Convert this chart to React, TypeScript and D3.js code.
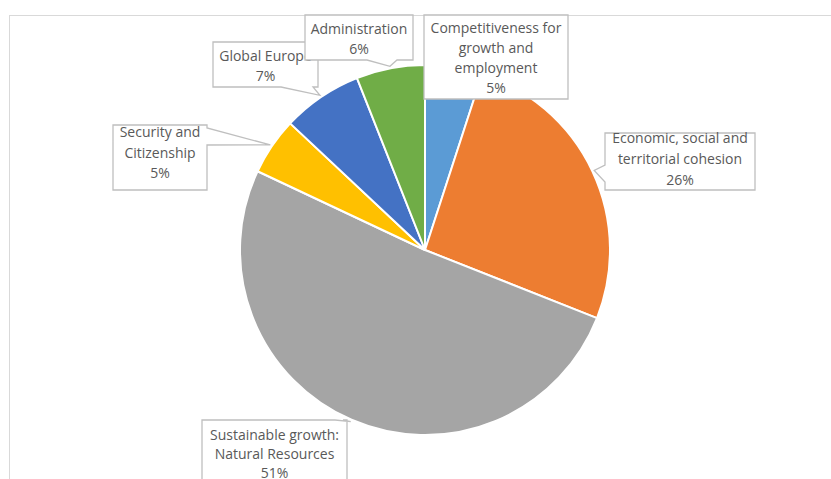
import { useEffect, useRef } from 'react'
import * as d3 from 'd3'

// ── Data ──────────────────────────────────────────────────────────
const categories = [
  'Competitiveness for growth and employment',
  'Economic, social and territorial cohesion',
  'Sustainable growth: Natural Resources',
  'Security and Citizenship',
  'Global Europe',
  'Administration',
]
const shares = [5, 26, 51, 5, 7, 6]
const labelLines = [
  ['Competitiveness for', 'growth and', 'employment'],
  ['Economic, social and', 'territorial cohesion'],
  ['Sustainable growth:', 'Natural Resources'],
  ['Security and', 'Citizenship'],
  ['Global Europe'],
  ['Administration'],
]
const colors = ['#5B9BD5', '#ED7D31', '#A5A5A5', '#FFC000', '#4472C4', '#70AD47']

// callout boxes (layout only) – side = where the pointer leaves the box,
// pa/pb = pointer base offsets along that side, base = first baseline offset
type Side = 'none' | 'left' | 'right' | 'top' | 'bottom'
interface Box { x: number; y: number; w: number; h: number; side: Side; pa: number; pb: number; base: number; gap: number }
const boxes: Box[] = [
  { x: 424, y: 15, w: 144, h: 84, side: 'none', pa: 0, pb: 0, base: 18, gap: 20 },
  { x: 605, y: 133, w: 150, h: 57, side: 'left', pa: 32, pb: 49, base: 10, gap: 21 },
  { x: 202, y: 420, w: 145, h: 80, side: 'top', pa: 133, pb: 141, base: 20, gap: 19 },
  { x: 113, y: 125, w: 94, h: 65, side: 'right', pa: 3, pb: 20, base: 12, gap: 20.5 },
  { x: 213, y: 42, w: 105, h: 45, side: 'bottom', pa: 68, pb: 100, base: 19, gap: 20 },
  { x: 305, y: 15, w: 108, h: 45, side: 'bottom', pa: 62, pb: 92, base: 19, gap: 20 },
]

function calloutPath(b: Box, tip: [number, number]) {
  const { x, y, w, h, side, pa, pb } = b
  const r = x + w
  const btm = y + h
  const [tx, ty] = tip
  const p: string[] = [`M${x},${y}`]
  if (side === 'top') p.push(`L${x + pa},${y}`, `L${tx},${ty}`, `L${x + pb},${y}`)
  p.push(`L${r},${y}`)
  if (side === 'right') p.push(`L${r},${y + pa}`, `L${tx},${ty}`, `L${r},${y + pb}`)
  p.push(`L${r},${btm}`)
  if (side === 'bottom') p.push(`L${x + pb},${btm}`, `L${tx},${ty}`, `L${x + pa},${btm}`)
  p.push(`L${x},${btm}`)
  if (side === 'left') p.push(`L${x},${y + pb}`, `L${tx},${ty}`, `L${x},${y + pa}`)
  p.push('Z')
  return p.join(' ')
}

export default function App() {
  const svgRef = useRef<SVGSVGElement>(null)

  useEffect(() => {
    const svg = svgRef.current
    if (!svg) return
    const width = 831
    const height = 479
    const cx = 425
    const cy = 250
    const radius = 185

    const root = d3.select(svg)
    root.selectAll('*').remove()
    root.attr('width', width).attr('height', height)

    root.append('rect').attr('width', width).attr('height', height).attr('fill', '#ffffff')

    // chart frame (extends past the crop)
    root
      .append('rect')
      .attr('x', 9.5)
      .attr('y', 15.5)
      .attr('width', width + 20)
      .attr('height', height + 20)
      .attr('fill', 'none')
      .attr('stroke', '#d9d9d9')
      .attr('stroke-width', 1)

    const pie = d3.pie<number>().sort(null).value((d) => d)
    const arcs = pie(shares)
    const arc = d3.arc<d3.PieArcDatum<number>>().innerRadius(0).outerRadius(radius)
    const edge = d3.arc<d3.PieArcDatum<number>>().innerRadius(radius + 2).outerRadius(radius + 2)

    const g = root.append('g').attr('transform', `translate(${cx},${cy})`)
    g.selectAll('path')
      .data(arcs)
      .join('path')
      .attr('d', arc)
      .attr('fill', (_, i) => colors[i])
      .attr('stroke', '#ffffff')
      .attr('stroke-width', 2)
      .attr('stroke-linejoin', 'round')

    // ── Callout labels ───────────────────────────────────────────
    const lg = root.append('g')
    boxes.forEach((b, i) => {
      const c = edge.centroid(arcs[i])
      const tip: [number, number] = [cx + c[0], cy + c[1]]
      lg.append('path')
        .attr('d', calloutPath(b, tip))
        .attr('fill', '#ffffff')
        .attr('stroke', '#bfbfbf')
        .attr('stroke-width', 1.3)
      const lines = [...labelLines[i], `${shares[i]}%`]
      const t = lg
        .append('text')
        .attr('text-anchor', 'middle')
        .attr('fill', '#595959')
        .attr('font-family', '"Open Sans", "Noto Sans", sans-serif')
        .attr('font-size', '14px')
      lines.forEach((ln, k) => {
        t.append('tspan')
          .attr('x', b.x + b.w / 2)
          .attr('y', b.y + b.base + k * b.gap)
          .text(ln)
      })
    })
    root.append('title').text(categories.join(', '))
  }, [])

  return (
    <div style={{ position: 'absolute', left: 0, top: 0 }}>
      <svg ref={svgRef} style={{ display: 'block' }} />
    </div>
  )
}
